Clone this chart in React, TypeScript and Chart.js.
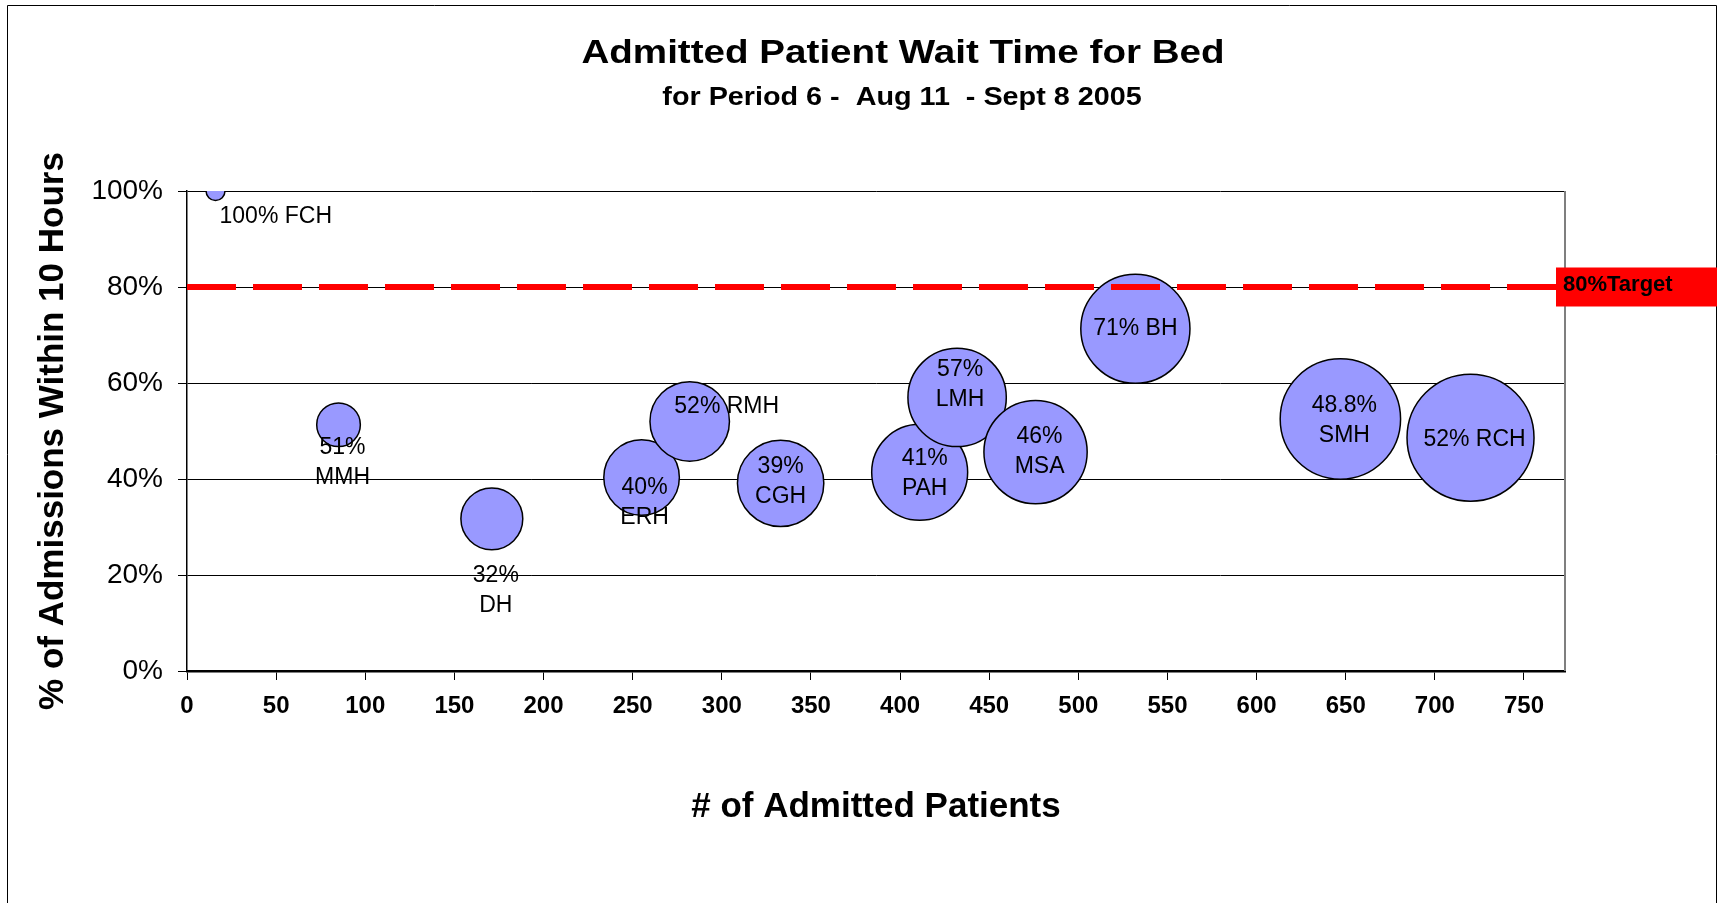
import { useEffect, useRef } from 'react';
import { Chart, registerables } from 'chart.js';

Chart.register(...registerables);

// ---------- data ----------
const HOSPITALS = ['FCH', 'MMH', 'DH', 'ERH', 'RMH', 'CGH', 'PAH', 'LMH', 'MSA', 'BH', 'SMH', 'RCH'];
const ADMITTED = [16, 85, 171, 255, 282, 333, 411, 432, 476, 532, 647, 720];
const PCT_WITHIN_10H = [1.0, 0.513, 0.317, 0.403, 0.52, 0.391, 0.414, 0.57, 0.456, 0.713, 0.525, 0.486];
const POINT_LABELS = [
  '100% FCH',
  '51%\nMMH',
  '32%\nDH',
  '40%\nERH',
  '52% RMH',
  '39%\nCGH',
  '41%\nPAH',
  '57%\nLMH',
  '46%\nMSA',
  '71% BH',
  '48.8%\nSMH',
  '52% RCH',
];
const TARGET = 0.8;
const TARGET_LABEL = '80%Target';
const X_TICKS = [0, 50, 100, 150, 200, 250, 300, 350, 400, 450, 500, 550, 600, 650, 700, 750];
const Y_TICKS = [0, 0.2, 0.4, 0.6, 0.8, 1.0];
const X_MIN = 0;
const X_MAX = 773;
const Y_MIN = 0;
const Y_MAX = 1;

const TITLE = 'Admitted Patient Wait Time for Bed';
const SUBTITLE = 'for Period 6 -  Aug 11  - Sept 8 2005';
const X_TITLE = '# of Admitted Patients';
const Y_TITLE = '% of Admissions Within 10 Hours';

// ---------- styling / layout (not data) ----------
const FONT = "'Liberation Sans', Arial, Helvetica, sans-serif";
const W = 1719;
const H = 903;
const BUBBLE_MAX_RADIUS = 63.5;
const LABEL_LINE_HEIGHT = 30;
// label placement: offset of first line centre from bubble centre
const LABEL_LAYOUT: { dx: number; dy: number; align?: CanvasTextAlign }[] = [
  { dx: 4, dy: 26, align: 'left' },
  { dx: 4, dy: 23 },
  { dx: 4, dy: 57 },
  { dx: 3, dy: 10 },
  { dx: 37, dy: -15 },
  { dx: 0, dy: -17 },
  { dx: 5, dy: -14 },
  { dx: 3, dy: -28 },
  { dx: 4, dy: -15 },
  { dx: 0, dy: 0 },
  { dx: 4, dy: -13 },
  { dx: 4, dy: 2 },
];

function drawStretched(ctx: CanvasRenderingContext2D, text: string, x: number, y: number, sx: number) {
  ctx.save();
  ctx.translate(x, y);
  ctx.scale(sx, 1);
  ctx.fillText(text, 0, 0);
  ctx.restore();
}

const decorPlugin = {
  id: 'decor',
  beforeDatasetsDraw(chart: any) {
    const { ctx, chartArea } = chart;
    ctx.save();
    ctx.strokeStyle = '#7f7f7f';
    ctx.lineWidth = 2;
    ctx.beginPath();
    ctx.moveTo(chartArea.right, chartArea.top);
    ctx.lineTo(chartArea.right, chartArea.bottom);
    ctx.stroke();
    ctx.restore();
  },
  afterDatasetsDraw(chart: any) {
    const { ctx } = chart;
    const meta = chart.getDatasetMeta(0);
    ctx.save();
    ctx.fillStyle = '#000';
    ctx.font = `23px ${FONT}`;
    ctx.textBaseline = 'middle';
    meta.data.forEach((el: any, i: number) => {
      const lay = LABEL_LAYOUT[i];
      ctx.textAlign = lay.align || 'center';
      const lines = POINT_LABELS[i].split('\n');
      lines.forEach((ln, k) => {
        ctx.fillText(ln, el.x + lay.dx, el.y + lay.dy + k * LABEL_LINE_HEIGHT);
      });
    });
    ctx.restore();
  },
  afterDraw(chart: any) {
    const { ctx, chartArea, scales } = chart;
    ctx.save();
    // outer frame
    ctx.strokeStyle = '#000';
    ctx.lineWidth = 1;
    ctx.beginPath();
    ctx.moveTo(7.5, H);
    ctx.lineTo(7.5, 5.5);
    ctx.lineTo(W - 2.5, 5.5);
    ctx.lineTo(W - 2.5, H);
    ctx.stroke();

    // titles
    ctx.fillStyle = '#000';
    ctx.textAlign = 'center';
    ctx.textBaseline = 'alphabetic';
    ctx.font = `bold 34px ${FONT}`;
    drawStretched(ctx, TITLE, 903, 63, 1.135);
    ctx.font = `bold 25px ${FONT}`;
    drawStretched(ctx, SUBTITLE, 902, 105, 1.15);

    // target box
    const ty = scales.y.getPixelForValue(TARGET);
    const bx = chartArea.right - 9;
    ctx.fillStyle = '#FF0000';
    ctx.fillRect(bx, ty - 19.5, W - 2 - bx, 39);
    ctx.fillStyle = '#000';
    ctx.textAlign = 'left';
    ctx.textBaseline = 'middle';
    ctx.font = `bold 22px ${FONT}`;
    ctx.fillText(TARGET_LABEL, bx + 7, ty - 2);
    ctx.restore();
  },
};

export default function App() {
  const canvasRef = useRef<HTMLCanvasElement | null>(null);

  useEffect(() => {
    const canvas = canvasRef.current;
    if (!canvas) return;
    const maxAdm = Math.max(...ADMITTED);
    const bubbles = HOSPITALS.map((h, i) => ({
      x: ADMITTED[i],
      y: PCT_WITHIN_10H[i],
      r: BUBBLE_MAX_RADIUS * Math.sqrt(ADMITTED[i] / maxAdm),
      name: h,
    }));

    const chart = new Chart(canvas, {
      type: 'bubble',
      data: {
        datasets: [
          {
            type: 'bubble',
            label: 'Hospitals',
            data: bubbles,
            backgroundColor: '#9999FF',
            borderColor: '#000000',
            borderWidth: 1.5,
            hoverBorderWidth: 1.5,
            clip: 0,
            order: 1,
          } as any,
          {
            type: 'line',
            label: '80% Target',
            data: [
              { x: X_MIN, y: TARGET },
              { x: X_MAX, y: TARGET },
            ],
            borderColor: '#FF0000',
            borderWidth: 6,
            borderDash: [49, 17],
            pointRadius: 0,
            fill: false,
            order: 0,
          } as any,
        ],
      },
      options: {
        responsive: false,
        animation: false,
        events: [],
        layout: { padding: { left: 0, top: 191, right: 154, bottom: 0 } },
        plugins: {
          legend: { display: false },
          tooltip: { enabled: false },
          title: { display: false },
        },
        scales: {
          x: {
            type: 'linear',
            min: X_MIN,
            max: X_MAX,
            afterBuildTicks: (s: any) => {
              s.ticks = X_TICKS.map((v) => ({ value: v }));
            },
            afterFit: (s: any) => {
              s.height = 232;
            },
            grid: { drawOnChartArea: false, drawTicks: true, tickLength: 9, color: '#000', lineWidth: 1 },
            border: { color: '#000', width: 2.5 },
            ticks: {
              padding: 12,
              color: '#000',
              font: { family: FONT, size: 24, weight: 'bold' },
              maxRotation: 0,
              autoSkip: false,
            },
            title: {
              display: true,
              text: X_TITLE,
              color: '#000',
              font: { family: FONT, size: 35, weight: 'bold' },
              padding: { top: 0, bottom: 75 },
            },
          },
          y: {
            type: 'linear',
            min: Y_MIN,
            max: Y_MAX,
            afterBuildTicks: (s: any) => {
              s.ticks = Y_TICKS.map((v) => ({ value: v }));
            },
            afterFit: (s: any) => {
              s.width = 187;
            },
            grid: { color: '#000', lineWidth: 1, drawTicks: true, tickLength: 9 },
            border: { color: '#000', width: 1.5 },
            ticks: {
              padding: 15,
              color: '#000',
              font: { family: FONT, size: 28 },
              callback: (v: any) => `${Math.round(Number(v) * 100)}%`,
            },
            title: {
              display: true,
              text: Y_TITLE,
              color: '#000',
              font: { family: FONT, size: 35, weight: 'bold' },
              padding: { top: 32, bottom: 0 },
            },
          },
        },
      } as any,
      plugins: [decorPlugin],
    });

    return () => chart.destroy();
  }, []);

  return (
    <div style={{ position: 'absolute', left: 0, top: 0, width: W, height: H, background: '#fff' }}>
      <canvas ref={canvasRef} width={W} height={H} style={{ display: 'block', width: W, height: H }} />
    </div>
  );
}
